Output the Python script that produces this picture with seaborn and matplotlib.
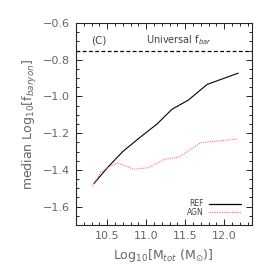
""" Median baryon fraction vs halo mass, REF and AGN runs """

import numpy as np
import pandas as pd
import matplotlib
matplotlib.use("Agg")
import matplotlib.pyplot as plt
from matplotlib.ticker import MultipleLocator
import seaborn as sns

# values
logm_ref = [10.33, 10.50, 10.70, 10.93, 11.14, 11.33, 11.54, 11.78, 11.92, 12.18]
fbar_ref = [-1.475, -1.39, -1.30, -1.22, -1.15, -1.07, -1.02, -0.935, -0.913, -0.873]

logm_agn = [10.31, 10.42, 10.55, 10.64, 10.84, 11.03, 11.24, 11.42, 11.70, 11.85, 12.17]
fbar_agn = [-1.489, -1.412, -1.378, -1.362, -1.397, -1.388, -1.342, -1.330, -1.252, -1.246, -1.232]

fbar_universal = -0.755

sns.set_style("ticks")
plt.rcParams['font.family'] = ['DejaVu Sans']

df = pd.concat([
    pd.DataFrame({'logm': logm_ref, 'fbar': fbar_ref, 'run': 'REF'}),
    pd.DataFrame({'logm': logm_agn, 'fbar': fbar_agn, 'run': 'AGN'}),
])

fig = plt.figure(figsize=(2.74, 2.74), dpi=100)
ax = fig.add_axes([0.277, 0.179, 0.641, 0.737])

sns.lineplot(data=df, x='logm', y='fbar', hue='run', style='run',
             palette={'REF': 'black', 'AGN': '#ff7070'},
             dashes={'REF': '', 'AGN': (1, 1)}, sort=False,
             linewidth=0.8, ax=ax, legend=False)

ax.axhline(fbar_universal, color='black', linestyle=(0, (3, 2)), linewidth=0.9)

ax.set_xlim(10.1, 12.35)
ax.set_ylim(-1.7, -0.6)
ax.xaxis.set_major_locator(MultipleLocator(0.5))
ax.xaxis.set_minor_locator(MultipleLocator(0.1))
ax.yaxis.set_major_locator(MultipleLocator(0.2))
ax.yaxis.set_minor_locator(MultipleLocator(0.05))
ax.set_yticks([-1.6, -1.4, -1.2, -1.0, -0.8, -0.6])
ax.set_yticklabels(['\u22121.6', '\u22121.4', '\u22121.2', '\u22121.0', '\u22120.8', '\u22120.6'])
ax.set_xticks([10.5, 11.0, 11.5, 12.0])
ax.set_xticklabels(['10.5', '11.0', '11.5', '12.0'])

grey = '#666666'
ax.tick_params(which='both', direction='in', top=True, right=True,
               colors='black', labelcolor=grey, labelsize=8, width=0.6)
ax.tick_params(which='major', length=4, pad=4)
ax.tick_params(which='minor', length=2)
for s in ax.spines.values():
    s.set_linewidth(0.8)

ax.set_xlabel(r'Log$_{10}$[M$_{tot}$ (M$_{\odot}$)]', color=grey, fontsize=9, labelpad=5)
ax.set_ylabel(r'median Log$_{10}$[f$_{baryon}$]', color=grey, fontsize=9, labelpad=3)

ax.text(0.13, 0.915, '(C)', transform=ax.transAxes, fontsize=7.5,
        color='#444444', ha='center', va='center')
ax.text(0.587, 0.915, r'Universal f$_{bar}$', transform=ax.transAxes,
        fontsize=7, color='#444444', ha='center', va='center')

# legend drawn by hand, IDL style
ax.plot([0.76, 0.94], [0.105, 0.105], transform=ax.transAxes, color='black', linewidth=0.9)
ax.plot([0.76, 0.94], [0.063, 0.063], transform=ax.transAxes, color='#ff7070',
        linewidth=0.9, linestyle=(0, (1, 1)))
ax.text(0.73, 0.105, 'REF', transform=ax.transAxes, fontsize=5.5,
        color='#444444', ha='right', va='center')
ax.text(0.73, 0.063, 'AGN', transform=ax.transAxes, fontsize=5.5,
        color='#444444', ha='right', va='center')

fig.savefig('out.png', dpi=100)
